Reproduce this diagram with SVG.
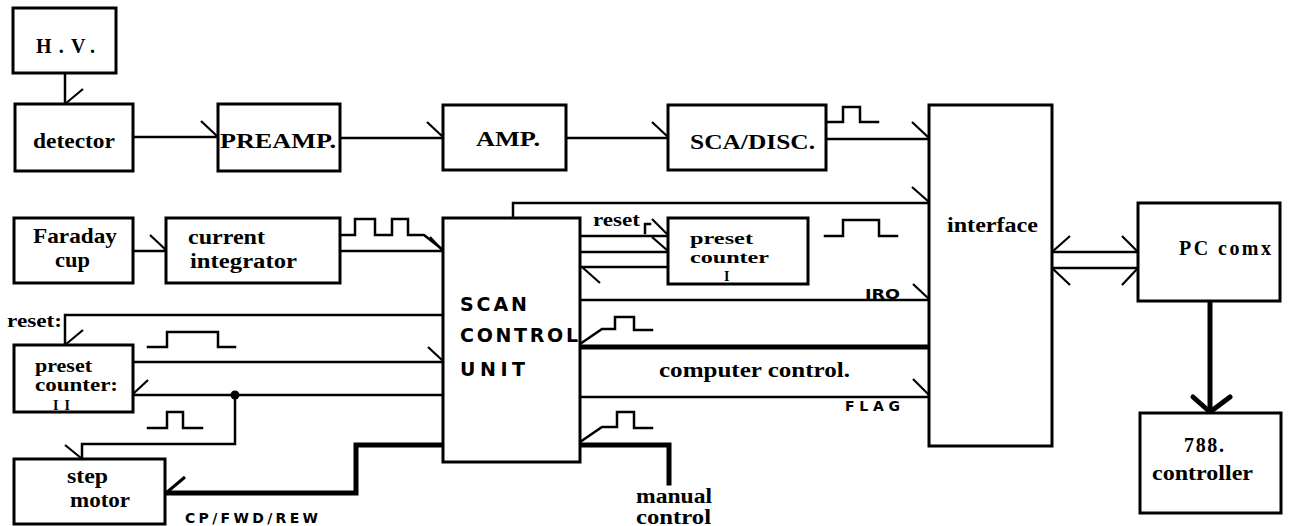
<svg xmlns="http://www.w3.org/2000/svg" width="1290" height="526" viewBox="0 0 1290 526">
<style>
.box{fill:#fff;stroke:#000;stroke-width:3}
.ln{fill:none;stroke:#000;stroke-width:2.5;stroke-linecap:square}
.thk{fill:none;stroke:#000;stroke-width:5;stroke-linecap:square}
.tk{fill:none;stroke:#000;stroke-width:2.2}
.t{font-family:"Liberation Serif","DejaVu Serif",serif;font-weight:bold;fill:#000}
.m{font-family:"DejaVu Sans","Liberation Sans",sans-serif;font-weight:bold;fill:#000}
</style>
<rect width="1290" height="526" fill="#fff"/>
<g id="connectors">
  <!-- HV -> detector -->
  <path class="ln" d="M65,73 V104"/><path class="tk" d="M65,104 L83,89"/>
  <!-- detector -> preamp -->
  <path class="ln" d="M133,137 H218"/><path class="tk" d="M201,121 L218,137"/>
  <!-- preamp -> amp -->
  <path class="ln" d="M340,138 H443"/><path class="tk" d="M427,122 L443,137"/>
  <!-- amp -> sca -->
  <path class="ln" d="M566,138 H668"/><path class="tk" d="M652,122 L668,137"/>
  <!-- sca -> interface -->
  <path class="ln" d="M826,139 H929"/><path class="tk" d="M912,122 L929,138"/>
  <path class="ln" d="M826,122 H843 V107 H860 V122 H878"/>
  <!-- scan top -> interface -->
  <path class="ln" d="M513,218 V203 H929"/><path class="tk" d="M912,187 L929,202"/>
  <!-- faraday -> integrator -->
  <path class="ln" d="M133,251 H166"/><path class="tk" d="M150,235 L166,250"/>
  <!-- integrator -> scan -->
  <path class="ln" d="M340,251 H443"/>
  <path class="ln" d="M340,235 H355 V219 H375 V235 H392 V219 H408 V235 H424 L443,250"/>
  <path class="tk" d="M430,237 L443,251"/>
  <!-- scan <-> preset counter I -->
  <path class="ln" d="M580,236 H668 M580,252 H668 M580,267 H668"/>
  <path class="tk" d="M652,219 L668,235 M652,237 L668,251 M582,267 L600,283"/>
  <path class="ln" d="M645,233 V224 H650"/>
  <text class="t" x="593" y="226" font-size="19" textLength="47" lengthAdjust="spacingAndGlyphs">reset</text>
  <path class="ln" d="M825,236 H843 V220 H879 V236 H897"/>
  <!-- IRQ -->
  <path class="ln" d="M580,300 H929"/><path class="tk" d="M913,284 L929,299"/>
  <text class="m" x="865" y="299" font-size="14" textLength="35" lengthAdjust="spacingAndGlyphs">IRQ</text>
  <!-- computer control -->
  <path class="ln" d="M580,344 L602,329 H615 V317 H634 V330 H652"/>
  <path class="thk" d="M582,347 H929"/>
  <path class="ln" d="M580,397 H929"/><path class="tk" d="M913,379 L929,395"/>
  <text class="t" x="659" y="377" font-size="20" textLength="191" lengthAdjust="spacingAndGlyphs">computer control.</text>
  <text class="m" x="845" y="411" font-size="14" textLength="55" lengthAdjust="spacing">FLAG</text>
  <!-- manual control -->
  <path class="ln" d="M580,442 L602,427 H617 V412 H634 V428 H652"/>
  <path class="thk" d="M669,483 V445 H582"/>
  <text class="t" x="636" y="503" font-size="20" textLength="76" lengthAdjust="spacingAndGlyphs">manual</text>
  <text class="t" x="636" y="524" font-size="20" textLength="75" lengthAdjust="spacingAndGlyphs">control</text>
  <!-- reset to preset counter II -->
  <path class="ln" d="M443,315 H65 V345"/><path class="tk" d="M65,345 L83,330"/>
  <text class="t" x="7" y="327" font-size="19" textLength="55" lengthAdjust="spacingAndGlyphs">reset:</text>
  <path class="ln" d="M148,347 H167 V332 H218 V347 H235"/>
  <!-- preset counter II -> scan -->
  <path class="ln" d="M133,362 H443"/><path class="tk" d="M428,347 L443,361"/>
  <!-- scan -> preset counter II / step motor -->
  <path class="ln" d="M443,395 H133"/><path class="tk" d="M133,394 L148,380"/>
  <circle cx="235" cy="395" r="4.5" fill="#000"/>
  <path class="ln" d="M235,395 V444 H82 V459"/><path class="tk" d="M65,445 L81,458"/>
  <path class="ln" d="M148,428 H167 V412 H183 V428 H202"/>
  <!-- scan -> step motor -->
  <path class="thk" d="M441,445 H356 V493 H167"/><path class="tk" style="stroke-width:3" d="M166,493 L185,477"/>
  <text class="m" x="185" y="523" font-size="14" textLength="133" lengthAdjust="spacing">CP/FWD/REW</text>
  <!-- interface <-> PC -->
  <path class="ln" d="M1052,252 H1138 M1052,268 H1138"/>
  <path class="tk" d="M1052,252 L1070,236 M1052,268 L1070,285 M1138,252 L1122,236 M1138,268 L1122,285"/>
  <!-- PC -> 788 -->
  <path class="thk" d="M1210,301 V411"/>
  <path class="thk" style="stroke-linecap:round;stroke-linejoin:round" d="M1193,397 L1210,412 L1230,397"/>
</g>
<g id="hv"><rect class="box" x="13" y="8" width="103" height="65"/>
  <text class="t" x="36" y="53" font-size="20" textLength="59" lengthAdjust="spacing">H.V.</text></g>
<g id="detector"><rect class="box" x="15" y="104" width="118" height="67"/>
  <text class="t" x="33" y="148" font-size="22" textLength="82" lengthAdjust="spacingAndGlyphs">detector</text></g>
<g id="preamp"><rect class="box" x="218" y="104" width="122" height="67"/>
  <text class="t" x="220" y="148" font-size="20" textLength="116" lengthAdjust="spacingAndGlyphs">PREAMP.</text></g>
<g id="amp"><rect class="box" x="443" y="105" width="123" height="65"/>
  <text class="t" x="476" y="146" font-size="20" textLength="64" lengthAdjust="spacingAndGlyphs">AMP.</text></g>
<g id="sca"><rect class="box" x="668" y="105" width="158" height="65"/>
  <text class="t" x="690" y="149" font-size="20" textLength="125" lengthAdjust="spacingAndGlyphs">SCA/DISC.</text></g>
<g id="faraday"><rect class="box" x="14" y="218" width="119" height="65"/>
  <text class="t" x="33" y="243" font-size="21" textLength="84" lengthAdjust="spacingAndGlyphs">Faraday</text>
  <text class="t" x="55" y="267" font-size="21" textLength="35" lengthAdjust="spacingAndGlyphs">cup</text></g>
<g id="integrator"><rect class="box" x="166" y="218" width="174" height="65"/>
  <text class="t" x="188" y="244" font-size="21" textLength="77" lengthAdjust="spacingAndGlyphs">current</text>
  <text class="t" x="190" y="268" font-size="21" textLength="107" lengthAdjust="spacingAndGlyphs">integrator</text></g>
<g id="scan"><rect class="box" x="443" y="218" width="137" height="244"/>
  <text class="m" x="460" y="311" font-size="19" textLength="67" lengthAdjust="spacing">SCAN</text>
  <text class="m" x="460" y="342" font-size="19" textLength="118" lengthAdjust="spacing">CONTROL</text>
  <text class="m" x="460" y="376" font-size="19" textLength="65" lengthAdjust="spacing">UNIT</text></g>
<g id="preset1"><rect class="box" x="668" y="218" width="140" height="66"/>
  <text class="t" x="690" y="244" font-size="17" textLength="63" lengthAdjust="spacingAndGlyphs">preset</text>
  <text class="t" x="690" y="263" font-size="17" textLength="79" lengthAdjust="spacingAndGlyphs">counter</text>
  <text class="t" x="724" y="281" font-size="14">I</text></g>
<g id="preset2"><rect class="box" x="14" y="345" width="119" height="67"/>
  <text class="t" x="35" y="372" font-size="18" textLength="57" lengthAdjust="spacingAndGlyphs">preset</text>
  <text class="t" x="35" y="391" font-size="18" textLength="83" lengthAdjust="spacingAndGlyphs">counter:</text>
  <text class="t" x="53" y="410" font-size="14" textLength="17" lengthAdjust="spacing">II</text></g>
<g id="stepmotor"><rect class="box" x="14" y="459" width="151" height="65"/>
  <text class="t" x="67" y="483" font-size="21" textLength="41" lengthAdjust="spacingAndGlyphs">step</text>
  <text class="t" x="70" y="507" font-size="21" textLength="60" lengthAdjust="spacingAndGlyphs">motor</text></g>
<g id="interface"><rect class="box" x="929" y="105" width="123" height="341"/>
  <text class="t" x="947" y="232" font-size="20" textLength="91" lengthAdjust="spacingAndGlyphs">interface</text></g>
<g id="pc"><rect class="box" x="1138" y="203" width="142" height="98"/>
  <text class="t" x="1179" y="255" font-size="20" textLength="92" lengthAdjust="spacing">PC comx</text></g>
<g id="controller788"><rect class="box" x="1140" y="413" width="141" height="100"/>
  <text class="t" x="1184" y="452" font-size="20" textLength="40" lengthAdjust="spacing">788.</text>
  <text class="t" x="1152" y="480" font-size="20" textLength="101" lengthAdjust="spacingAndGlyphs">controller</text></g>
</svg>
